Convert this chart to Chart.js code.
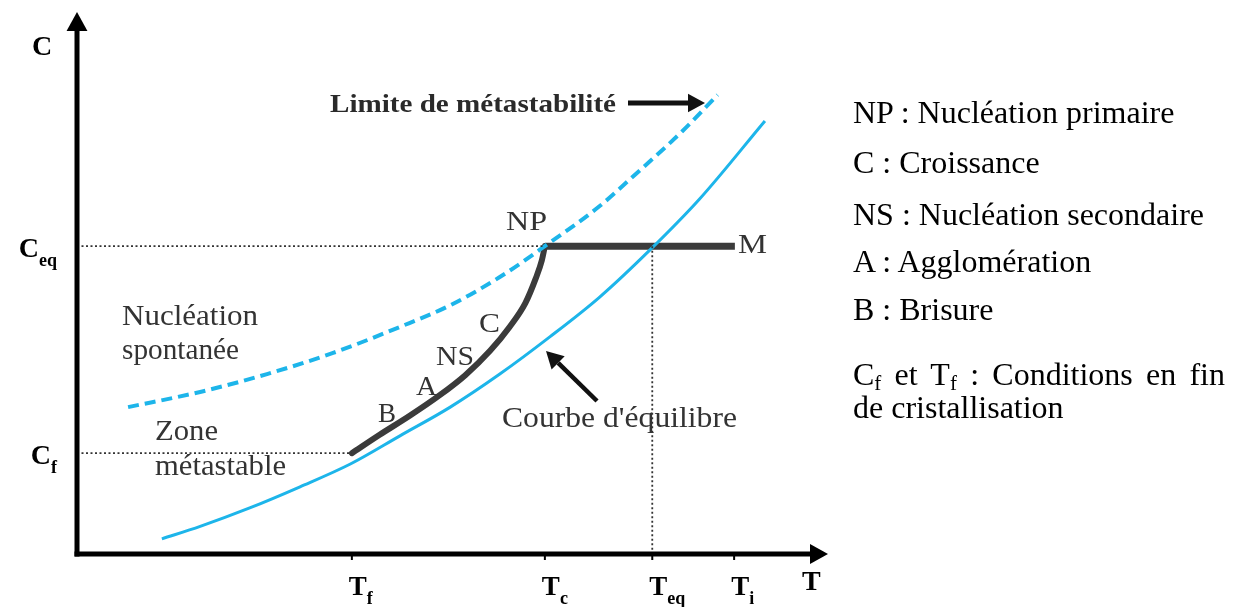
<!DOCTYPE html>
<html>
<head>
<meta charset="utf-8">
<script src="https://cdn.jsdelivr.net/npm/chart.js@4.4.0/dist/chart.umd.min.js"></script>
<style>
  html, body { margin: 0; padding: 0; background: #fff; }
  #wrap { position: relative; width: 1235px; height: 607px; overflow: hidden; }
  #wrap canvas { position: absolute; left: 0; top: 0; }
  .note { position: absolute; left: 853px; font-family: "Liberation Serif", "Times New Roman", serif; font-size: 32px; line-height: 31px; color: #000; white-space: nowrap; }
  .note sub { font-size: 21px; vertical-align: -5px; line-height: 0; }
  .just { display: inline-block; width: 372px; text-align: justify; text-align-last: justify; }
</style>
</head>
<body>
<div id="wrap">
  <canvas id="phaseChart" width="1235" height="607"></canvas>
  <div class="note" style="top:97px">NP : Nucléation primaire</div>
  <div class="note" style="top:147px">C : Croissance</div>
  <div class="note" style="top:199px">NS : Nucléation secondaire</div>
  <div class="note" style="top:246px">A : Agglomération</div>
  <div class="note" style="top:294px">B : Brisure</div>
  <div class="note" style="top:359px"><span class="just">C<sub>f</sub> et T<sub>f</sub> : Conditions en fin</span></div>
  <div class="note" style="top:392px">de cristallisation</div>
</div>
<script>
// axis range (arbitrary units, T horizontal, C vertical)
const tMin = 0, tMax = 100;
const cMin = 0, cMax = 100;

// named tick positions
const tTicks = [36.6, 62.3, 76.6, 87.5];
const tTickMain = ['T', 'T', 'T', 'T'];
const tTickSub = ['f', 'c', 'eq', 'i'];
const cTicks = [56.8, 18.6];
const cTickMain = ['C', 'C'];
const cTickSub = ['eq', 'f'];

// courbe d'équilibre (solubility)
const eqT = [11.3, 16.4, 23.0, 29.7, 36.4, 43.0, 49.7, 56.3, 63.0, 69.6, 76.3, 82.9, 91.6];
const eqC = [2.8, 5.1, 8.5, 12.4, 16.6, 21.8, 27.1, 33.2, 40.1, 47.4, 56.1, 65.5, 79.9];

// limite de métastabilité
const metaT = [6.8, 16.4, 25.3, 34.1, 43.0, 49.7, 56.3, 62.3, 69.6, 74.0, 80.6, 85.3];
const metaC = [27.1, 29.9, 33.2, 37.1, 41.9, 45.9, 51.1, 56.8, 64.2, 69.6, 78.0, 84.7];

// chemin de cristallisation : M -> NP (horizontal) then NP -> (Tf, Cf)
const coolT = [62.3, 87.6];
const coolC = [56.8, 56.8];
const crystT = [36.6, 40.3, 44.3, 48.3, 51.7, 55.0, 57.6, 59.7, 61.1, 61.9, 62.3];
const crystC = [18.6, 22.0, 25.5, 29.3, 33.0, 37.5, 41.9, 46.3, 50.9, 54.2, 56.8];

const toPts = (xs, ys) => xs.map((x, i) => ({ x: x, y: ys[i] }));

const BLUE = '#1db5ea';
const DARK = '#3b3b3b';
const GUIDE = '#333';

const guides = [
  toPts([tMin, tTicks[1]], [cTicks[0], cTicks[0]]),
  toPts([tMin, tTicks[0]], [cTicks[1], cTicks[1]]),
  toPts([tTicks[2], tTicks[2]], [cTicks[0], cMin])
];

function drawArrow(ctx, x1, y1, x2, y2, width, head) {
  const ang = Math.atan2(y2 - y1, x2 - x1);
  const bx = x2 - Math.cos(ang) * head, by = y2 - Math.sin(ang) * head;
  ctx.lineWidth = width;
  ctx.beginPath();
  ctx.moveTo(x1, y1);
  ctx.lineTo(bx, by);
  ctx.stroke();
  ctx.beginPath();
  ctx.moveTo(x2, y2);
  ctx.lineTo(bx + Math.sin(ang) * head * 0.55, by - Math.cos(ang) * head * 0.55);
  ctx.lineTo(bx - Math.sin(ang) * head * 0.55, by + Math.cos(ang) * head * 0.55);
  ctx.closePath();
  ctx.fill();
}

// text stretched to the width it has in the picture
function fitText(ctx, txt, x, y, w, font) {
  ctx.font = font;
  const m = ctx.measureText(txt).width;
  ctx.save();
  ctx.translate(x, y);
  ctx.scale(w / m, 1);
  ctx.fillText(txt, 0, 0);
  ctx.restore();
}

function subLabel(ctx, main, sub, x, y, size, align) {
  const subSize = Math.round(size * 0.66);
  ctx.font = 'bold ' + size + 'px "Liberation Serif", serif';
  const w1 = ctx.measureText(main).width;
  ctx.font = 'bold ' + subSize + 'px "Liberation Serif", serif';
  const w2 = ctx.measureText(sub).width;
  const left = align === 'right' ? x - w1 - w2 : x;
  ctx.textAlign = 'left';
  ctx.font = 'bold ' + size + 'px "Liberation Serif", serif';
  ctx.fillText(main, left, y);
  ctx.font = 'bold ' + subSize + 'px "Liberation Serif", serif';
  ctx.fillText(sub, left + w1, y + 9);
}

const overlay = {
  id: 'overlay',
  afterDatasetsDraw(chart) {
    const ctx = chart.ctx;
    const xs = chart.scales.x, ys = chart.scales.y;
    const x0 = xs.getPixelForValue(tMin), y0 = ys.getPixelForValue(cMin);
    const xEnd = xs.getPixelForValue(tMax), yEnd = ys.getPixelForValue(cMax);
    ctx.save();
    ctx.fillStyle = '#000';
    ctx.strokeStyle = '#000';
    ctx.lineCap = 'butt';
    // axes with arrows
    drawArrow(ctx, x0, y0 + 2.5, x0, yEnd, 5, 19);
    drawArrow(ctx, x0 - 2.5, y0, xEnd, y0, 5, 18);
    // ticks on T
    ctx.lineWidth = 2;
    tTicks.forEach(v => {
      const px = xs.getPixelForValue(v);
      ctx.beginPath(); ctx.moveTo(px, y0); ctx.lineTo(px, y0 + 6); ctx.stroke();
    });
    ctx.textBaseline = 'alphabetic';
    tTicks.forEach((v, i) => {
      subLabel(ctx, tTickMain[i], tTickSub[i], xs.getPixelForValue(v) - 3, 595, 27, 'left');
    });
    cTicks.forEach((v, i) => {
      subLabel(ctx, cTickMain[i], cTickSub[i], 57, ys.getPixelForValue(v) + 11, 28, 'right');
    });
    ctx.font = 'bold 28px "Liberation Serif", serif';
    ctx.fillText('C', 32, 55);
    ctx.fillText('T', 802, 590);

    // annotation arrows
    ctx.fillStyle = '#111';
    ctx.strokeStyle = '#111';
    drawArrow(ctx, 628, 103, 705, 103, 5, 17);
    drawArrow(ctx, 597, 401, 546, 351, 4.5, 17);

    // annotation text
    ctx.fillStyle = '#2a2a2a';
    const serif = '"Liberation Serif", serif';
    fitText(ctx, 'Limite de métastabilité', 330, 112, 286, 'bold 26px ' + serif);
    ctx.fillStyle = '#333';
    fitText(ctx, 'Nucléation', 122, 325, 136, '29px ' + serif);
    fitText(ctx, 'spontanée', 122, 359, 117, '29px ' + serif);
    fitText(ctx, 'Zone', 155, 440, 63, '29px ' + serif);
    fitText(ctx, 'métastable', 155, 475, 131, '29px ' + serif);
    fitText(ctx, 'B', 378, 422, 18, '27px ' + serif);
    fitText(ctx, 'A', 416, 395, 21, '27px ' + serif);
    fitText(ctx, 'NS', 436, 365, 38, '27px ' + serif);
    fitText(ctx, 'C', 479, 332, 21, '27px ' + serif);
    fitText(ctx, 'NP', 506, 230, 41, '27px ' + serif);
    fitText(ctx, 'M', 738, 253, 29, '28px ' + serif);
    fitText(ctx, "Courbe d'équilibre", 502, 427, 235, '29px ' + serif);
    ctx.restore();
  }
};

new Chart(document.getElementById('phaseChart').getContext('2d'), {
  type: 'scatter',
  data: {
    datasets: [
      ...guides.map(g => ({
        data: g, showLine: true, borderColor: GUIDE, borderWidth: 1.8,
        borderDash: [2, 2.5], pointRadius: 0
      })),
      {
        label: 'Limite de métastabilité', data: toPts(metaT, metaC), showLine: true,
        borderColor: BLUE, borderWidth: 4, borderDash: [11, 6], pointRadius: 0,
        cubicInterpolationMode: 'monotone'
      },
      {
        label: "Courbe d'équilibre", data: toPts(eqT, eqC), showLine: true,
        borderColor: BLUE, borderWidth: 3, pointRadius: 0,
        cubicInterpolationMode: 'monotone'
      },
      {
        label: 'Refroidissement', data: toPts(coolT, coolC), showLine: true,
        borderColor: DARK, borderWidth: 7, pointRadius: 0
      },
      {
        label: 'Cristallisation', data: toPts(crystT, crystC), showLine: true,
        borderColor: DARK, borderWidth: 6, pointRadius: 0,
        cubicInterpolationMode: 'monotone', borderCapStyle: 'round'
      }
    ]
  },
  options: {
    responsive: false,
    animation: false,
    layout: { padding: { left: 77, right: 407, top: 12, bottom: 53 } },
    scales: {
      x: { type: 'linear', display: false, min: tMin, max: tMax },
      y: { type: 'linear', display: false, min: cMin, max: cMax }
    },
    plugins: { legend: { display: false }, tooltip: { enabled: false } }
  },
  plugins: [overlay]
});
</script>
</body>
</html>
